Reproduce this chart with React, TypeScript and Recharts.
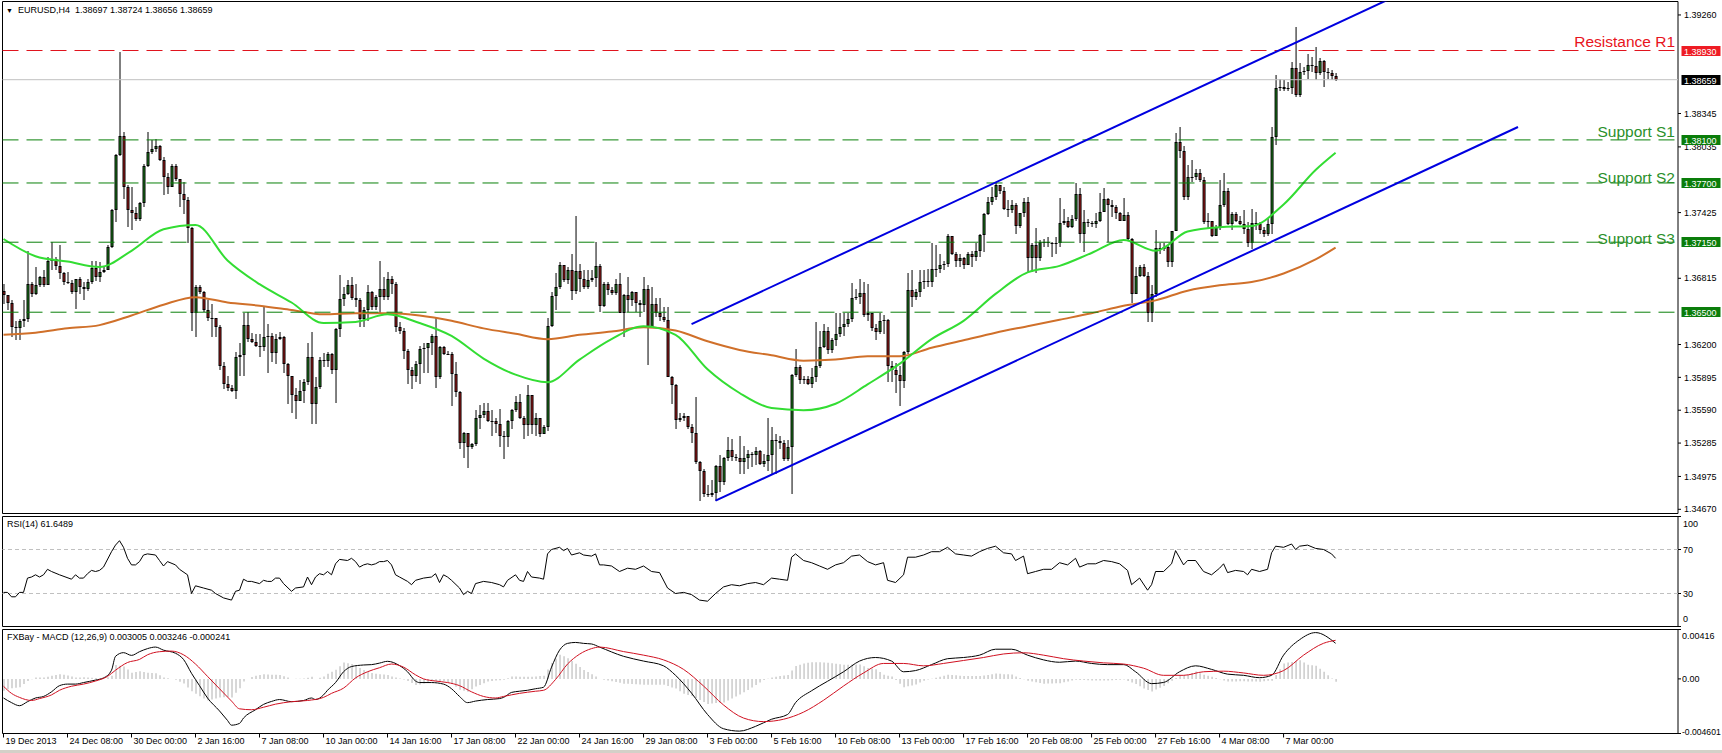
import React from 'react';
import { ComposedChart, Bar, Line, XAxis, YAxis, ReferenceLine, ReferenceArea } from 'recharts';

// EURUSD H4 — prices kept in pips above 1.3000 (666 -> 1.3666)
const firstOpen = 670;

const closes = [
  666, 659, 636, 635, 642, 644, 676, 667, 675, 683,
  675, 698, 699, 693, 686, 678, 677, 669, 681, 673,
  672, 678, 691, 683, 687, 689, 711, 745, 796, 814,
  766, 745, 742, 737, 751, 786, 799, 802, 804, 791,
  776, 766, 786, 774, 760, 754, 728, 649, 673, 669,
  652, 645, 645, 636, 600, 583, 580, 577, 608, 610,
  638, 625, 622, 619, 618, 627, 628, 612, 625, 627,
  602, 591, 573, 568, 577, 585, 608, 565, 581, 606,
  605, 611, 596, 634, 662, 667, 675, 663, 661, 644,
  652, 669, 655, 664, 672, 664, 681, 676, 636, 633,
  614, 596, 591, 602, 616, 617, 621, 628, 590, 618,
  611, 611, 593, 576, 529, 538, 525, 528, 552, 555,
  558, 549, 549, 546, 535, 534, 549, 559, 567, 552,
  545, 573, 545, 552, 537, 543, 637, 665, 673, 694,
  680, 689, 670, 688, 681, 673, 680, 682, 693, 656,
  676, 671, 668, 676, 649, 666, 661, 669, 659, 657,
  672, 636, 658, 649, 646, 643, 590, 582, 550, 552,
  554, 543, 538, 511, 503, 481, 480, 482, 507, 492,
  515, 522, 516, 515, 511, 515, 518, 517, 521, 509,
  512, 517, 531, 530, 529, 514, 525, 592, 599, 587,
  588, 583, 590, 600, 618, 633, 615, 624, 630, 636,
  639, 644, 663, 664, 668, 647, 649, 635, 632, 642,
  643, 600, 596, 592, 586, 613, 671, 664, 669, 678,
  679, 678, 690, 690, 694, 695, 721, 704, 698, 700,
  694, 704, 701, 707, 722, 741, 752, 757, 768, 763,
  746, 745, 750, 730, 742, 752, 700, 712, 700, 715,
  715, 714, 713, 714, 733, 735, 729, 737, 760, 723,
  734, 733, 732, 735, 743, 755, 750, 748, 742, 735,
  740, 718, 667, 684, 692, 684, 649, 667, 710, 709,
  711, 697, 725, 808, 800, 757, 776, 776, 779, 773,
  734, 735, 721, 729, 750, 763, 732, 741, 735, 732,
  727, 714, 733, 732, 726, 723, 732, 813, 858, 859,
  857, 858, 877, 852, 873, 874, 880, 879, 872, 883,
  873, 872, 869, 866,
];

const highs = [
  676, 666, 661, 642, 644, 661, 707, 678, 692, 684,
  689, 701, 715, 701, 712, 687, 687, 680, 681, 683,
  678, 681, 698, 698, 697, 693, 712, 746, 797, 892,
  817, 768, 766, 748, 752, 788, 817, 810, 811, 805,
  794, 779, 788, 788, 771, 771, 757, 729, 675, 675,
  670, 661, 658, 645, 638, 604, 591, 582, 613, 621,
  649, 650, 631, 630, 630, 655, 639, 631, 630, 632,
  628, 603, 591, 580, 587, 588, 621, 632, 590, 608,
  612, 613, 612, 635, 685, 673, 680, 683, 676, 663,
  655, 675, 670, 666, 698, 683, 687, 684, 678, 641,
  635, 616, 599, 605, 619, 621, 621, 630, 645, 619,
  619, 614, 613, 604, 577, 539, 535, 529, 559, 564,
  566, 566, 559, 552, 560, 540, 550, 560, 572, 574,
  554, 582, 573, 556, 546, 545, 645, 669, 686, 697,
  692, 692, 704, 739, 695, 689, 689, 689, 715, 695,
  678, 678, 673, 681, 686, 667, 683, 670, 669, 661,
  683, 675, 673, 663, 663, 655, 655, 591, 583, 556,
  556, 554, 546, 571, 512, 504, 490, 494, 508, 517,
  516, 534, 532, 518, 535, 526, 522, 520, 525, 522,
  518, 552, 543, 537, 535, 531, 531, 593, 616, 601,
  591, 591, 598, 641, 633, 639, 636, 626, 649, 649,
  649, 649, 677, 672, 681, 678, 676, 649, 639, 649,
  647, 644, 605, 603, 600, 614, 686, 689, 672, 689,
  689, 690, 714, 712, 704, 698, 723, 721, 706, 704,
  701, 706, 707, 714, 723, 742, 757, 766, 771, 768,
  766, 754, 754, 751, 742, 756, 757, 714, 728, 717,
  718, 720, 715, 720, 756, 746, 738, 740, 770, 765,
  745, 737, 735, 742, 761, 765, 756, 754, 750, 743,
  756, 743, 719, 692, 694, 695, 687, 675, 726, 714,
  714, 712, 725, 816, 822, 804, 787, 791, 783, 783,
  776, 742, 735, 731, 773, 779, 765, 743, 743, 739,
  745, 734, 746, 743, 734, 729, 737, 822, 870, 867,
  866, 864, 882, 915, 881, 878, 890, 887, 896, 886,
  884, 877, 875, 872,
];

const lows = [
  658, 652, 627, 624, 624, 636, 641, 664, 666, 673,
  673, 675, 689, 689, 681, 675, 676, 667, 653, 667,
  661, 670, 676, 679, 678, 686, 689, 710, 734, 795,
  755, 729, 726, 735, 735, 748, 785, 797, 799, 790,
  759, 760, 766, 772, 748, 741, 714, 633, 627, 667,
  650, 642, 627, 627, 596, 579, 577, 576, 569, 591,
  591, 622, 621, 618, 608, 614, 594, 604, 602, 624,
  594, 565, 556, 551, 568, 566, 582, 546, 546, 579,
  599, 599, 593, 566, 627, 656, 666, 661, 655, 636,
  636, 642, 652, 652, 649, 661, 661, 667, 632, 630,
  607, 583, 579, 585, 583, 594, 594, 610, 580, 588,
  610, 610, 563, 571, 523, 515, 505, 523, 526, 542,
  552, 548, 535, 538, 525, 514, 525, 542, 557, 551,
  532, 535, 537, 535, 534, 537, 540, 636, 652, 672,
  678, 676, 661, 667, 669, 672, 672, 678, 673, 650,
  655, 666, 666, 666, 649, 627, 650, 656, 650, 646,
  650, 601, 636, 646, 642, 641, 590, 565, 542, 548,
  549, 542, 529, 509, 475, 478, 478, 478, 475, 483,
  490, 512, 512, 512, 500, 500, 504, 506, 508, 508,
  506, 503, 500, 500, 523, 512, 512, 481, 590, 583,
  583, 582, 580, 585, 598, 617, 611, 612, 619, 627,
  628, 636, 641, 661, 658, 646, 642, 633, 624, 630,
  630, 585, 585, 575, 563, 580, 611, 655, 661, 664,
  672, 673, 673, 683, 686, 689, 692, 703, 692, 692,
  690, 694, 692, 698, 701, 706, 740, 750, 754, 760,
  745, 738, 742, 723, 728, 738, 686, 687, 686, 698,
  711, 711, 701, 704, 711, 731, 728, 728, 735, 714,
  706, 729, 729, 728, 734, 743, 715, 738, 737, 735,
  735, 717, 659, 667, 683, 683, 641, 641, 664, 704,
  707, 692, 692, 725, 793, 754, 754, 771, 773, 771,
  732, 728, 720, 721, 726, 748, 731, 726, 734, 731,
  723, 711, 709, 726, 723, 720, 721, 723, 805, 855,
  855, 855, 853, 850, 850, 870, 867, 873, 866, 870,
  859, 867, 866, 865,
];

// time axis, one label every 16 bars
const dateLabels = [
  '19 Dec 2013', '24 Dec 08:00', '30 Dec 00:00', '2 Jan 16:00', '7 Jan 08:00',
  '10 Jan 00:00', '14 Jan 16:00', '17 Jan 08:00', '22 Jan 00:00', '24 Jan 16:00',
  '29 Jan 08:00', '3 Feb 00:00', '5 Feb 16:00', '10 Feb 08:00', '13 Feb 00:00',
  '17 Feb 16:00', '20 Feb 08:00', '25 Feb 00:00', '27 Feb 16:00', '4 Mar 08:00',
  '7 Mar 00:00',
];
const labelEvery = 16;

// moving averages read every 8 bars (pips)
const maBars = [
  0, 8, 16, 24, 32, 40, 48, 56, 64, 72, 80, 88, 96, 104, 112, 120, 128, 136, 144, 152, 160,
  168, 176, 184, 192, 200, 208, 216, 224, 232, 240, 248, 256, 264, 272, 280, 288, 296, 304,
  312, 320, 328, 333,
];
const fastMa = [
  718, 702, 697, 692, 707, 727, 731, 698, 676, 659, 640, 641, 648, 640, 628, 607, 592, 585,
  606, 625, 637, 629, 597, 575, 561, 559, 565, 583, 602, 625, 642, 667, 687, 693, 705, 717,
  707, 725, 729, 730, 750, 782, 798,
];
const slowMa = [
  629, 631, 635, 638, 647, 657, 664, 659, 656, 652, 648, 649, 649, 647, 642, 635, 630, 625,
  629, 632, 636, 633, 623, 615, 610, 605, 606, 609, 609, 617, 624, 631, 637, 643, 649, 656,
  661, 670, 675, 678, 686, 699, 710,
];

// RSI(14) [bar, value]
const rsiPoints: [number, number][] = [
  [0, 31], [1, 31], [2, 27], [3, 27], [4, 31], [5, 31], [6, 44], [7, 45], [8, 47], [9, 45],
  [10, 47], [11, 52], [12, 50], [14, 47], [17, 43], [18, 47], [19, 44], [20, 44], [21, 48],
  [22, 51], [23, 50], [24, 51], [25, 54], [27, 68], [28, 74], [29, 78], [30, 72], [31, 62],
  [32, 56], [33, 56], [34, 59], [35, 65], [36, 66], [38, 65], [39, 60], [40, 55], [41, 59],
  [43, 56], [44, 52], [46, 47], [47, 30], [48, 37], [50, 35], [52, 33], [53, 30], [55, 26],
  [57, 24], [58, 32], [59, 33], [60, 43], [61, 41], [62, 41], [64, 39], [65, 42], [66, 41],
  [67, 41], [68, 44], [69, 44], [70, 39], [72, 32], [73, 35], [75, 36], [76, 45], [77, 38],
  [78, 45], [79, 48], [80, 47], [81, 50], [82, 47], [83, 57], [84, 61], [86, 60], [87, 62],
  [88, 59], [89, 54], [90, 56], [91, 57], [92, 56], [93, 57], [94, 59], [95, 59], [96, 60],
  [97, 56], [98, 47], [99, 45], [101, 41], [102, 38], [103, 42], [105, 44], [107, 45],
  [108, 48], [109, 40], [110, 47], [111, 45], [112, 42], [114, 35], [115, 29], [116, 32],
  [117, 30], [118, 39], [120, 41], [122, 40], [124, 38], [125, 36], [126, 42], [128, 47],
  [129, 42], [130, 41], [131, 50], [132, 45], [134, 44], [135, 43], [136, 66], [137, 70],
  [139, 72], [140, 69], [141, 71], [142, 65], [144, 67], [145, 65], [147, 64], [148, 66],
  [149, 56], [150, 56], [152, 55], [154, 50], [156, 53], [158, 52], [160, 55], [162, 50],
  [164, 49], [166, 35], [168, 30], [170, 31], [172, 29], [174, 24], [176, 23], [178, 30],
  [180, 36], [182, 38], [184, 37], [186, 39], [188, 40], [190, 38], [192, 44], [194, 43],
  [196, 42], [197, 63], [198, 66], [200, 60], [202, 58], [204, 55], [206, 52], [208, 56],
  [210, 58], [212, 64], [214, 65], [216, 59], [218, 56], [220, 58], [221, 42], [223, 40],
  [225, 47], [226, 63], [228, 63], [230, 65], [232, 68], [234, 68], [236, 72], [238, 66],
  [240, 65], [242, 64], [244, 68], [246, 71], [248, 73], [250, 67], [252, 66], [253, 60],
  [255, 64], [256, 48], [258, 50], [260, 52], [262, 52], [264, 58], [266, 56], [268, 62],
  [269, 54], [271, 57], [273, 57], [275, 60], [277, 59], [279, 57], [281, 51], [282, 38],
  [284, 44], [286, 33], [287, 38], [288, 50], [290, 50], [292, 57], [293, 69], [295, 56],
  [296, 60], [298, 60], [300, 50], [302, 47], [304, 53], [305, 57], [306, 49], [308, 51],
  [310, 50], [311, 47], [312, 52], [314, 50], [316, 52], [317, 67], [318, 73], [320, 72],
  [322, 75], [323, 70], [324, 73], [326, 74], [328, 71], [330, 70], [332, 66], [333, 62],
];

// MACD (12,26,9) in units of 0.00001 [bar, value]
const macdPoints: [number, number][] = [
  [0, -161], [2, -200], [4, -226], [6, -192], [8, -161], [10, -148], [12, -109], [14, -57],
  [16, -44], [18, -44], [20, -31], [23, -10], [25, 8], [27, 73], [28, 190], [30, 221],
  [32, 198], [34, 229], [36, 255], [38, 268], [40, 242], [43, 216], [45, 164], [47, 47],
  [49, -57], [51, -161], [54, -270], [56, -350], [57, -390], [59, -375], [60, -330],
  [63, -260], [65, -215], [67, -190], [69, -174], [72, -192], [75, -182], [77, -161],
  [78, -174], [80, -135], [81, -96], [83, -31], [85, 60], [87, 104], [90, 117], [92, 120],
  [94, 133], [96, 148], [99, 112], [101, 60], [103, -18], [104, -31], [107, -31], [110, -44],
  [112, -83], [114, -148], [116, -200], [118, -187], [121, -174], [124, -166], [125, -156],
  [127, -114], [129, -104], [131, -96], [133, -83], [135, -70], [137, 99], [139, 242],
  [141, 299], [143, 307], [145, 299], [147, 294], [149, 268], [155, 190], [160, 150],
  [165, 110], [168, 30], [172, -120], [176, -300], [180, -420], [184, -440], [188, -400],
  [192, -340], [196, -300], [198, -200], [202, -100], [206, -20], [210, 60], [214, 150],
  [218, 180], [222, 150], [225, 60], [228, 70], [232, 120], [236, 170], [240, 180],
  [244, 200], [248, 250], [252, 250], [256, 200], [260, 160], [264, 140], [268, 150],
  [272, 130], [276, 120], [280, 120], [283, 60], [287, -40], [290, -30], [294, 60],
  [298, 110], [302, 80], [306, 40], [310, 30], [314, 10], [317, 30], [320, 200], [324, 330],
  [328, 390], [333, 300],
];
const signalPoints: [number, number][] = [
  [0, -62], [2, -122], [4, -156], [7, -182], [9, -166], [12, -135], [14, -96], [17, -62],
  [20, -44], [23, -18], [26, 21], [28, 73], [31, 138], [34, 164], [36, 203], [39, 229],
  [42, 234], [45, 203], [48, 125], [51, 21], [54, -83], [57, -187], [59, -252], [62, -260],
  [65, -239], [68, -213], [72, -192], [76, -182], [80, -156], [82, -122], [85, -78], [88, 8],
  [91, 60], [94, 94], [97, 125], [100, 99], [103, 34], [105, 0], [108, -18], [111, -31],
  [114, -57], [117, -109], [120, -148], [123, -161], [125, -148], [129, -122], [133, -104],
  [135, -96], [138, -5], [141, 125], [144, 208], [147, 255], [149, 268], [155, 230],
  [160, 200], [165, 160], [170, 80], [175, -60], [180, -220], [185, -330], [190, -360],
  [195, -340], [200, -280], [205, -180], [210, -60], [215, 50], [220, 130], [225, 130],
  [230, 110], [235, 130], [240, 155], [245, 180], [250, 210], [255, 220], [260, 200],
  [265, 170], [270, 150], [275, 135], [280, 125], [285, 90], [290, 30], [295, 30], [300, 60],
  [305, 65], [310, 50], [315, 30], [320, 70], [325, 200], [330, 300], [333, 325],
];
// gray histogram, one value per bar (0.00001)
const histogram = [
  -99, -88, -78, -74, -70, -44, -17, -3, 11, 12,
  12, 19, 26, 32, 39, 34, 29, 20, 12, 12,
  13, 11, 10, 8, 4, 0, 13, 26, 117, 111,
  105, 78, 51, 58, 65, 58, 52, 50, 48, 30,
  11, 5, -2, -8, -24, -39, -72, -104, -126, -147,
  -165, -182, -173, -165, -156, -154, -152, -156, -117, -78,
  -23, 0, 15, 27, 33, 39, 37, 35, 34, 33,
  22, 11, 0, 1, 2, 3, 10, 18, -2, 10,
  21, 43, 60, 76, 107, 138, 131, 125, 108, 91,
  74, 62, 49, 44, 39, 36, 33, 20, 12, 4,
  -6, -17, -35, -52, -48, -38, -28, -19, -18, -17,
  -17, -30, -43, -67, -91, -100, -108, -87, -65, -51,
  -36, -22, -18, -14, -11, -8, 6, 21, 20, 18,
  17, 17, 19, 21, 24, 26, 80, 135, 170, 204,
  190, 174, 150, 127, 100, 75, 57, 39, 20, 0,
  -7, -14, -20, -27, -33, -40, -42, -44, -46, -48,
  -50, -50, -50, -50, -50, -50, -61, -72, -82, -104,
  -125, -135, -144, -161, -178, -195, -212, -208, -204, -202,
  -200, -183, -166, -149, -132, -113, -94, -73, -52, -31,
  -10, 1, 12, 18, 24, 28, 32, 70, 108, 119,
  130, 135, 140, 140, 140, 138, 136, 132, 128, 124,
  120, 120, 121, 121, 122, 107, 92, 87, 82, 58,
  35, 27, 20, -10, -40, -70, -63, -55, -48, -31,
  -15, -6, 2, 10, 19, 27, 35, 32, 30, 27,
  25, 25, 25, 25, 25, 29, 33, 40, 46, 43,
  40, 38, 36, 21, 7, -4, -16, -22, -28, -34,
  -40, -39, -38, -37, -36, -28, -21, -14, -8, -9,
  -10, -12, -14, -13, -13, -13, -13, -11, -9, -7,
  -5, -18, -31, -44, -62, -80, -93, -106, -90, -75,
  -60, -37, -15, 8, 30, 33, 37, 50, 62, 48,
  35, 26, 18, 7, -4, -13, -22, -21, -21, -20,
  -20, -21, -22, -23, -24, -20, -15, -15, 32, 81,
  130, 137, 143, 150, 156, 138, 120, 115, 110, 85,
  60, 31, 3, -25,
];

// horizontal levels and their captions
const levelPrices = [1.3893, 1.381, 1.377, 1.3715, 1.365];
const levelNames = ['Resistance R1', 'Support S1', 'Support S2', 'Support S3', ''];
const namePrices = [1.3896, 1.38123, 1.37701, 1.37132, 0];
const lastPrice = 1.38659;
const priceTicks = [
  1.3467, 1.34975, 1.35285, 1.3559, 1.35895, 1.362, 1.36505, 1.36815, 1.3712, 1.37425,
  1.3773, 1.38035, 1.38345, 1.3865, 1.38955, 1.3926,
];

// channel lines: [bar, pips] -> [bar, pips]
const channel: [number, number, number, number][] = [
  [172, 639, 378.6, 996.4],
  [178, 475, 378.6, 822],
];

const px = (p: number) => 1.3 + p / 10000;

type Row = {
  i: number; o: number; h: number; l: number; c: number; range: [number, number];
  fast?: number; slow?: number; rsi?: number; macd?: number; signal?: number; hist?: number;
};

const rows: Row[] = closes.map((c, i) => {
  const o = i === 0 ? firstOpen : closes[i - 1];
  const h = Math.max(highs[i], o, c);
  const l = Math.min(lows[i], o, c);
  return { i, o: px(o), c: px(c), h: px(h), l: px(l), range: [px(l), px(h)], hist: histogram[i] / 1e5 };
});
maBars.forEach((b, k) => {
  rows[b].fast = px(fastMa[k]);
  rows[b].slow = px(slowMa[k]);
});
rsiPoints.forEach(([b, v]) => { rows[b].rsi = v; });
macdPoints.forEach(([b, v]) => { rows[b].macd = v / 1e5; });
signalPoints.forEach(([b, v]) => { rows[b].signal = v / 1e5; });

const FONT = '"Liberation Sans", Arial, sans-serif';
const X_DOMAIN: [number, number] = [-0.25, 418.6];
const PRICE_DOMAIN: [number, number] = [1.34631, 1.39385];
const MACD_DOMAIN: [number, number] = [-0.004601, 0.00416];
const BULL = '#1f8a1f';
const BEAR = '#b01c1c';
const GREEN = '#0a800a';
const MARGIN = { top: 1.5, right: 0, bottom: 1.5, left: 2.5 };

// tick labels that a price box would hide completely are left out
const boxed = [...levelPrices, lastPrice];
const visibleTicks = priceTicks.filter((t) => boxed.every((b) => Math.abs(t - b) > 0.0004));

const Candle = (props: any) => {
  const { x, y, width, height, payload } = props;
  if (!payload || payload.h == null) return <g />;
  const { o, c, h, l } = payload;
  const cx = x + width / 2;
  const k = h > l ? height / (h - l) : 0;
  const top = Math.round(y + (h - Math.max(o, c)) * k);
  const bot = Math.round(y + (h - Math.min(o, c)) * k);
  return (
    <g>
      <line x1={cx} x2={cx} y1={Math.round(y)} y2={Math.round(y + height)} stroke="#000" strokeWidth={1} />
      <rect x={cx - 1.5} y={top} width={3} height={Math.max(bot - top, 1)} fill="#000" />
      {bot - top > 2 && (
        <rect x={cx - 0.5} y={top + 1} width={1} height={bot - top - 2} fill={c >= o ? BULL : BEAR} />
      )}
    </g>
  );
};

const AxisText = ({ x, y, size = 9, children }: any) => (
  <text x={x} y={y} dy={3.2} fontSize={size} fontFamily={FONT} fill="#000">{children}</text>
);

const PriceTick = (props: any) => {
  const { x, y, payload } = props;
  return (
    <g>
      <line x1={x} x2={x + 3} y1={y} y2={y} stroke="#000" />
      <AxisText x={x + 6} y={y}>{payload.value.toFixed(5)}</AxisText>
    </g>
  );
};

const RsiTick = (props: any) => {
  const { x, y, payload } = props;
  const v = payload.value;
  const shift = v === 100 ? 7.5 : v === 0 ? -7.5 : 0;
  return (
    <g>
      <line x1={x} x2={x + 3} y1={y} y2={y} stroke="#000" />
      <AxisText x={x + 5} y={y + shift}>{String(v)}</AxisText>
    </g>
  );
};

const MacdTick = (props: any) => {
  const { x, y, payload } = props;
  const v = payload.value;
  const text = v === 0 ? '0.00' : v > 0 ? v.toFixed(5) : v.toFixed(6);
  const shift = v > 0 ? 6.5 : v < 0 ? -2 : -0.5;
  return (
    <g>
      <line x1={x} x2={x + 3} y1={y} y2={y} stroke="#000" />
      <AxisText x={x + 4} y={y + shift} size={v < 0 ? 8.6 : 9}>{text}</AxisText>
    </g>
  );
};

const DateTick = (props: any) => {
  const { x, y, payload } = props;
  const label = dateLabels[Math.round(payload.value / labelEvery)];
  return (
    <g>
      <line x1={x} x2={x} y1={y} y2={y + 4} stroke="#000" />
      <text x={x + 2} y={y + 10} fontSize={9} fontFamily={FONT} fill="#000">{label}</text>
    </g>
  );
};

const priceBox = (price: number, color: string) => (props: any) => {
  const vb = props.viewBox;
  const right = vb.x + vb.width;
  const y = Math.round(vb.y);
  return (
    <g>
      <rect x={right + 3.5} y={y - 5} width={39} height={10} fill={color} />
      <text x={right + 6} y={y + 3.5} fontSize={9} fontFamily={FONT} fill="#fff">{price.toFixed(5)}</text>
    </g>
  );
};

const caption = (text: string, color: string) => (props: any) => {
  const vb = props.viewBox;
  return (
    <text x={vb.x + vb.width - 3} y={vb.y} textAnchor="end" fontSize={15.5} fontFamily={FONT} fill={color}>
      {text}
    </text>
  );
};

const frame = (x2: number, y1: number, y2: number) => (
  <ReferenceArea
    x1={X_DOMAIN[0]} x2={x2} y1={y1} y2={y2}
    fill="none" stroke="#000" strokeWidth={1} fillOpacity={0} ifOverflow="visible"
  />
);

const MainChart = () => (
  <ComposedChart width={1722} height={515} data={rows} margin={MARGIN}>
    <XAxis dataKey="i" type="number" domain={X_DOMAIN} hide allowDataOverflow />
    <YAxis
      orientation="right" width={44} domain={PRICE_DOMAIN} ticks={visibleTicks} interval={0}
      allowDataOverflow axisLine={false} tickLine={false} tickSize={0} tickMargin={0} tick={<PriceTick />}
    />
    <Bar dataKey="range" shape={Candle} barSize={3} isAnimationActive={false} />
    <Line dataKey="slow" type="monotone" stroke="#d0702a" strokeWidth={2} dot={false} connectNulls isAnimationActive={false} />
    <Line dataKey="fast" type="monotone" stroke="#33dd33" strokeWidth={2} dot={false} connectNulls isAnimationActive={false} />
    {frame(X_DOMAIN[1], PRICE_DOMAIN[0], PRICE_DOMAIN[1])}
  </ComposedChart>
);

// chart objects (levels, channel, captions, price boxes) drawn above the axis
const MainObjects = () => (
  <ComposedChart width={1722} height={515} data={rows} margin={{ ...MARGIN, right: 44 }}>
    <XAxis dataKey="i" type="number" domain={X_DOMAIN} hide allowDataOverflow />
    <YAxis hide domain={PRICE_DOMAIN} allowDataOverflow />
    <ReferenceLine y={lastPrice} stroke="#c0c0c0" strokeWidth={1} label={priceBox(lastPrice, '#000')} />
    {levelPrices.map((p) => (
      <ReferenceLine
        key={p} y={p} stroke={p > lastPrice ? '#e0141e' : GREEN} strokeWidth={1} strokeDasharray="16 8"
        label={priceBox(p, p > lastPrice ? '#ee1c24' : '#0a7d0a')}
      />
    ))}
    {levelNames.map((n, k) =>
      n ? (
        <ReferenceLine
          key={n} y={namePrices[k]} stroke="none"
          label={caption(n, levelPrices[k] > lastPrice ? '#e8141c' : '#2a8f2a')}
        />
      ) : null,
    )}
    {channel.map(([b1, p1, b2, p2]) => (
      <ReferenceLine
        key={b1}
        segment={[{ x: b1, y: px(p1) }, { x: b2, y: px(p2) }]}
        stroke="#0000e0" strokeWidth={2} ifOverflow="hidden"
      />
    ))}
  </ComposedChart>
);

const RsiChart = () => (
  <ComposedChart width={1722} height={113} data={rows} margin={MARGIN}>
    <XAxis dataKey="i" type="number" domain={X_DOMAIN} hide allowDataOverflow />
    <YAxis
      orientation="right" width={44} domain={[0, 100]} ticks={[0, 30, 70, 100]} interval={0}
      axisLine={false} tickLine={false} tickSize={0} tickMargin={0} tick={<RsiTick />}
    />
    <ReferenceLine y={70} stroke="#c0c0c0" strokeDasharray="4 3" />
    <ReferenceLine y={30} stroke="#c0c0c0" strokeDasharray="4 3" />
    <Line dataKey="rsi" type="linear" stroke="#000" strokeWidth={1} dot={false} connectNulls isAnimationActive={false} />
    {frame(X_DOMAIN[1], 0, 100)}
  </ComposedChart>
);

const MacdChart = () => (
  <ComposedChart width={1722} height={125} data={rows} margin={{ ...MARGIN, bottom: 0 }}>
    <XAxis
      dataKey="i" type="number" domain={X_DOMAIN} allowDataOverflow height={19.5}
      ticks={dateLabels.map((_, k) => k * labelEvery)} interval={0}
      axisLine={false} tickLine={false} tickSize={0} tickMargin={0} tick={<DateTick />}
    />
    <YAxis
      orientation="right" width={44} domain={MACD_DOMAIN} ticks={[MACD_DOMAIN[0], 0, MACD_DOMAIN[1]]} interval={0}
      allowDataOverflow axisLine={false} tickLine={false} tickSize={0} tickMargin={0} tick={<MacdTick />}
    />
    <Bar dataKey="hist" barSize={1} fill="#b0b0b0" isAnimationActive={false} />
    <Line dataKey="macd" type="monotone" stroke="#000" strokeWidth={1} dot={false} connectNulls isAnimationActive={false} />
    <Line dataKey="signal" type="monotone" stroke="#d01020" strokeWidth={1} dot={false} connectNulls isAnimationActive={false} />
    {frame(X_DOMAIN[1], MACD_DOMAIN[0], MACD_DOMAIN[1])}
  </ComposedChart>
);

const label = { position: 'absolute' as const, fontFamily: FONT, fontSize: 9, color: '#000', whiteSpace: 'pre' as const, lineHeight: '11px' };

export default function App() {
  return (
    <div style={{ position: 'fixed', left: 0, top: 0, width: 1722, height: 753, background: '#fff', overflow: 'hidden' }}>
      <div style={{ position: 'absolute', left: 0, top: 0 }}><MainChart /></div>
      <div style={{ position: 'absolute', left: 0, top: 0 }}><MainObjects /></div>
      <div style={{ position: 'absolute', left: 0, top: 515 }}><RsiChart /></div>
      <div style={{ position: 'absolute', left: 0, top: 628 }}><MacdChart /></div>
      <div style={{ ...label, left: 6, top: 5 }}>
        <span style={{ fontSize: 7 }}>▼</span>{'  EURUSD,H4  1.38697 1.38724 1.38656 1.38659'}
      </div>
      <div style={{ ...label, left: 7, top: 519 }}>RSI(14) 61.6489</div>
      <div style={{ ...label, left: 7, top: 632 }}>FXBay - MACD (12,26,9) 0.003005 0.003246 -0.000241</div>
      <div style={{ position: 'absolute', left: 0, top: 750, width: 1722, height: 3, background: '#d4d0c8' }} />
    </div>
  );
}
